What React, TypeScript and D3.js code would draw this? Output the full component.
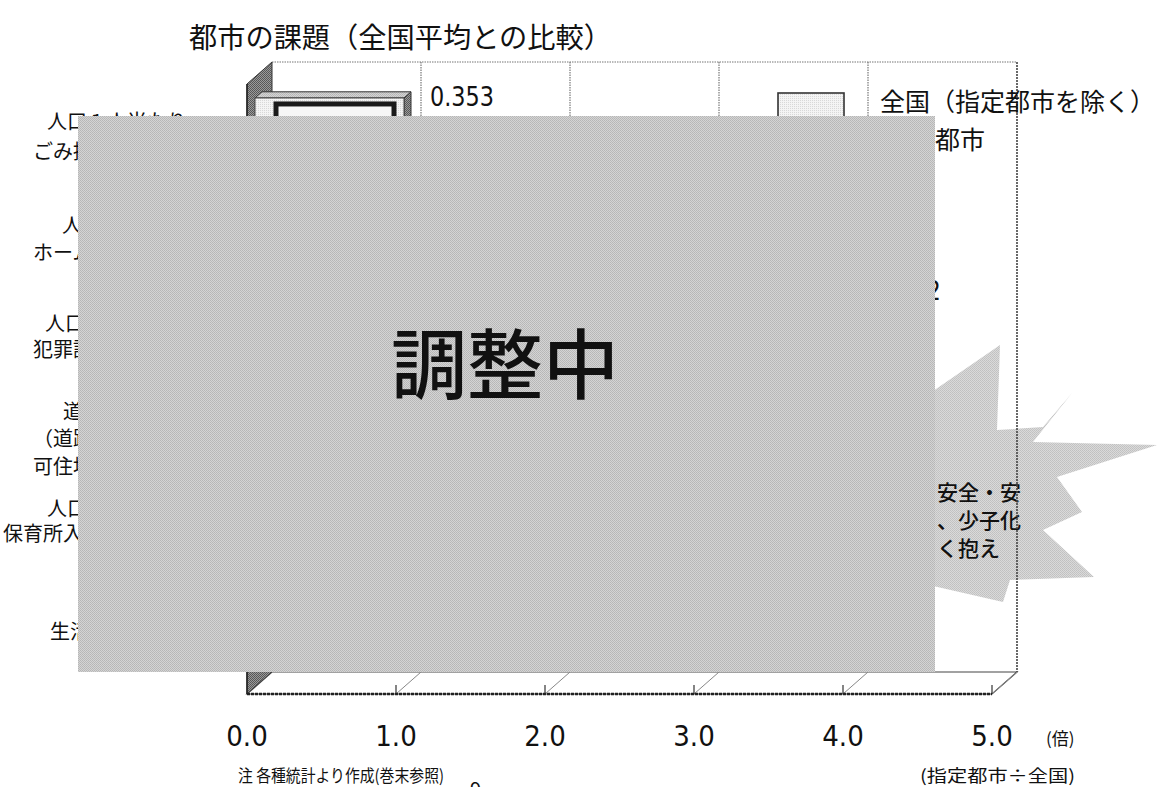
import React from "react";
import * as d3 from "d3";

// ---------- data ----------
const title = "都市の課題（全国平均との比較）";
const categoryLabels: string[][] = [
  ["人口１人当たり", "ごみ排出量"],
  ["人口千人当たり", "ホームレス数"],
  ["人口千人当たり", "犯罪認知件数"],
  ["道路混雑度", "（道路延長／", "可住地面積）"],
  ["人口千人当たり", "保育所入所待機児童数"],
  ["生活保護率"],
];
const nationalSeries = [1.0]; // 全国（指定都市を除く）= 1.0 (only the first bar is visible)
const valueLabels = ["0.353"];
const partialValueLabel = "2";
const xTicks = [0, 1, 2, 3, 4, 5];
const unitLabel = "(倍)";
const ratioNote = "(指定都市÷全国)";
const sourceNote = "注  各種統計より作成(巻末参照)";
const pageNo = "－9－";
const legendItems = ["全国（指定都市を除く）", "指定都市"];
const overlayText = "調整中";
const burstLines = ["安全・安", "、少子化", "く抱え"];

// ---------- layout ----------
const W = 1163;
const H = 787;
const DX = 25;
const DY = -22;
const FRONT_TOP = 84;
const FRONT_BOTTOM = 694;
const labelStartX = [
  [47, 33],
  [62, 33],
  [45, 33],
  [63, 33, 33],
  [47, 3],
  [50],
];
const labelLineY = [
  [120, 150],
  [224, 251],
  [322, 348],
  [410, 437, 465],
  [507, 532],
  [630],
];

const FONT_JP = "'Noto Sans CJK JP', 'Noto Sans', sans-serif";
const FONT_NUM = "'Liberation Sans Narrow', 'DejaVu Sans Condensed', 'Liberation Sans', sans-serif";

export default function App() {
  const x = d3.scaleLinear().domain([0, 5]).range([247, 992]);
  const y = d3
    .scaleBand<number>()
    .domain(d3.range(categoryLabels.length))
    .range([FRONT_TOP, FRONT_BOTTOM]);

  const backTop = FRONT_TOP + DY;
  const backBottom = FRONT_BOTTOM + DY;
  const x0 = x(0);
  const x5 = x(5);

  const bf = 8 / 25;
  const bb = 15 / 25;
  const barTopFront = (i: number) => (y(i) as number) + 21 + DY * bf;

  const poly = (pts: [number, number][]) => pts.map((p) => p.join(",")).join(" ");

  const burst: [number, number][] = [
    [920, 400],
    [1000, 345],
    [997, 430],
    [1043, 427],
    [1072, 393],
    [1033, 442],
    [1157, 445],
    [1057, 477],
    [1082, 512],
    [1043, 530],
    [1094, 577],
    [1010, 580],
    [1003, 602],
    [920, 583],
  ];

  return (
    <div style={{ position: "absolute", left: 0, top: 0 }}>
      <svg width={W} height={H} viewBox={`0 0 ${W} ${H}`} style={{ display: "block", background: "#fff" }}>
        <defs>
          <pattern id="dither" width="2" height="2" patternUnits="userSpaceOnUse">
            <rect width="2" height="2" fill="#d4d4d4" />
            <rect width="1" height="1" fill="#b6b6b6" />
            <rect x="1" y="1" width="1" height="1" fill="#bababa" />
          </pattern>
          <pattern id="ditherLight" width="2" height="2" patternUnits="userSpaceOnUse">
            <rect width="2" height="2" fill="#dadada" />
            <rect width="1" height="1" fill="#c0c0c0" />
            <rect x="1" y="1" width="1" height="1" fill="#c4c4c4" />
          </pattern>
          <pattern id="ditherDark" width="2" height="2" patternUnits="userSpaceOnUse">
            <rect width="2" height="2" fill="#9a9a9a" />
            <rect width="1" height="1" fill="#555" />
            <rect x="1" y="1" width="1" height="1" fill="#5a5a5a" />
          </pattern>
          <pattern id="ditherPale" width="2" height="2" patternUnits="userSpaceOnUse">
            <rect width="2" height="2" fill="#f4f4f4" />
            <rect width="1" height="1" fill="#d8d8d8" />
          </pattern>
        </defs>

        {/* title */}
        <text x={189} y={48} fontFamily={FONT_JP} fontSize={28} fill="#111" textLength={423} lengthAdjust="spacingAndGlyphs">
          {title}
        </text>

        {/* back wall */}
        <rect x={x0 + DX} y={backTop} width={x5 - x0} height={backBottom - backTop} fill="#fff" />

        {/* burst shape (behind chart lines) */}
        <polygon points={poly(burst)} fill="url(#ditherLight)" />
        {burstLines.map((t, i) => (
          <text key={i} x={937} y={500 + i * 28} fontFamily={FONT_JP} fontSize={21} fontWeight={500} fill="#111">
            {t}
          </text>
        ))}

        {/* back wall grid */}
        <line x1={x0 + DX} x2={x5 + DX} y1={backTop} y2={backTop} stroke="#777" strokeWidth={1.2} strokeDasharray="1.5,1" />
        {xTicks.slice(1, -1).map((v) => (
          <line key={v} x1={x(v) + DX} x2={x(v) + DX} y1={backTop} y2={backBottom} stroke="#777" strokeWidth={1.2} strokeDasharray="1.5,1" />
        ))}
        <line x1={x5 + DX} x2={x5 + DX} y1={backTop} y2={backBottom} stroke="#444" strokeWidth={1.6} strokeDasharray="2,1" />

        {/* left side wall */}
        <polygon
          points={poly([
            [x0, FRONT_TOP],
            [x0 + DX, backTop],
            [x0 + DX, backBottom],
            [x0, FRONT_BOTTOM],
          ])}
          fill="url(#ditherDark)"
          stroke="#333"
          strokeWidth={1}
        />

        {/* floor */}
        <polygon
          points={poly([
            [x0, FRONT_BOTTOM],
            [x0 + DX, backBottom],
            [x5 + DX, backBottom],
            [x5, FRONT_BOTTOM],
          ])}
          fill="#fff"
          stroke="#444"
          strokeWidth={1.2}
        />
        {xTicks.slice(1).map((v) => (
          <g key={v}>
            <line x1={x(v)} y1={FRONT_BOTTOM} x2={x(v) + DX} y2={backBottom} stroke="#888" strokeWidth={1} />
            <line x1={x(v)} y1={FRONT_BOTTOM - 9} x2={x(v)} y2={FRONT_BOTTOM} stroke="#333" strokeWidth={1.2} />
          </g>
        ))}
        <line x1={x0} x2={x5} y1={FRONT_BOTTOM} y2={FRONT_BOTTOM} stroke="#222" strokeWidth={2.4} strokeDasharray="3,1" />
        <line x1={x0} x2={x0} y1={FRONT_TOP} y2={FRONT_BOTTOM} stroke="#222" strokeWidth={1.5} />

        {/* bars (national series) */}
        {nationalSeries.map((v, i) => {
          const fx0 = x(0) + DX * bf;
          const fx1 = x(v) + DX * bf;
          const top = barTopFront(i);
          const ddx = DX * (bb - bf);
          const ddy = DY * (bb - bf);
          const bottom = top + 60;
          return (
            <g key={i}>
              <polygon
                points={poly([
                  [fx1, top],
                  [fx1 + ddx, top + ddy],
                  [fx1 + ddx, bottom + ddy],
                  [fx1, bottom],
                ])}
                fill="url(#ditherDark)"
                stroke="#333"
                strokeWidth={1}
              />
              <polygon
                points={poly([
                  [fx0, top],
                  [fx0 + ddx, top + ddy],
                  [fx1 + ddx, top + ddy],
                  [fx1, top],
                ])}
                fill="url(#dither)"
                stroke="#333"
                strokeWidth={1}
              />
              <rect x={fx0} y={top} width={fx1 - fx0} height={bottom - top} fill="url(#ditherPale)" stroke="#444" strokeWidth={1} />
              <rect x={fx0 + 21} y={top + 6} width={fx1 - fx0 - 31} height={bottom - top} fill="#f6f6f6" stroke="#1a1a1a" strokeWidth={5} />
              <text x={fx1 + 26} y={top + 8} fontFamily={FONT_NUM} fontSize={26} fill="#111" textLength={64} lengthAdjust="spacingAndGlyphs">
                {valueLabels[i]}
              </text>
            </g>
          );
        })}
        <text x={926} y={300} fontFamily={FONT_NUM} fontSize={26} fill="#111">
          {partialValueLabel}
        </text>

        {/* legend */}
        <rect x={778} y={93} width={66} height={40} fill="url(#ditherPale)" stroke="#333" strokeWidth={1.6} />
        <text x={880} y={111} fontFamily={FONT_JP} fontSize={25} fill="#111" textLength={275} lengthAdjust="spacingAndGlyphs">
          {legendItems[0]}
        </text>
        <text x={885} y={149} fontFamily={FONT_JP} fontSize={25} fill="#111">
          {legendItems[1]}
        </text>

        {/* category labels */}
        {categoryLabels.map((lines, i) =>
          lines.map((t, j) => (
            <text
              key={`${i}-${j}`}
              x={labelStartX[i][j]}
              y={labelLineY[i][j]}
              dominantBaseline="central"
              fontFamily={FONT_JP}
              fontSize={20}
              fill="#111"
            >
              {t}
            </text>
          ))
        )}

        {/* x axis labels */}
        {xTicks.map((v) => (
          <text key={v} x={x(v)} y={746} textAnchor="middle" fontFamily={FONT_NUM} fontSize={29} fill="#111">
            {d3.format(".1f")(v)}
          </text>
        ))}
        <text x={1046} y={745} fontFamily={FONT_JP} fontSize={17} fill="#111">
          {unitLabel}
        </text>
        <text x={920} y={782} fontFamily={FONT_JP} fontSize={17} fill="#111" textLength={155} lengthAdjust="spacingAndGlyphs">
          {ratioNote}
        </text>
        <text x={238} y={782} fontFamily={FONT_JP} fontSize={17} fill="#111" textLength={206} lengthAdjust="spacingAndGlyphs">
          {sourceNote}
        </text>
        <text x={450} y={797} fontFamily={FONT_JP} fontSize={20} fill="#111">
          {pageNo}
        </text>

        {/* overlay */}
        <rect x={78} y={116} width={857} height={556} fill="url(#dither)" />
        <text x={505} y={360} textAnchor="middle" dominantBaseline="central" fontFamily={FONT_JP} fontSize={76} fontWeight={500} fill="#111">
          {overlayText}
        </text>
      </svg>
    </div>
  );
}
